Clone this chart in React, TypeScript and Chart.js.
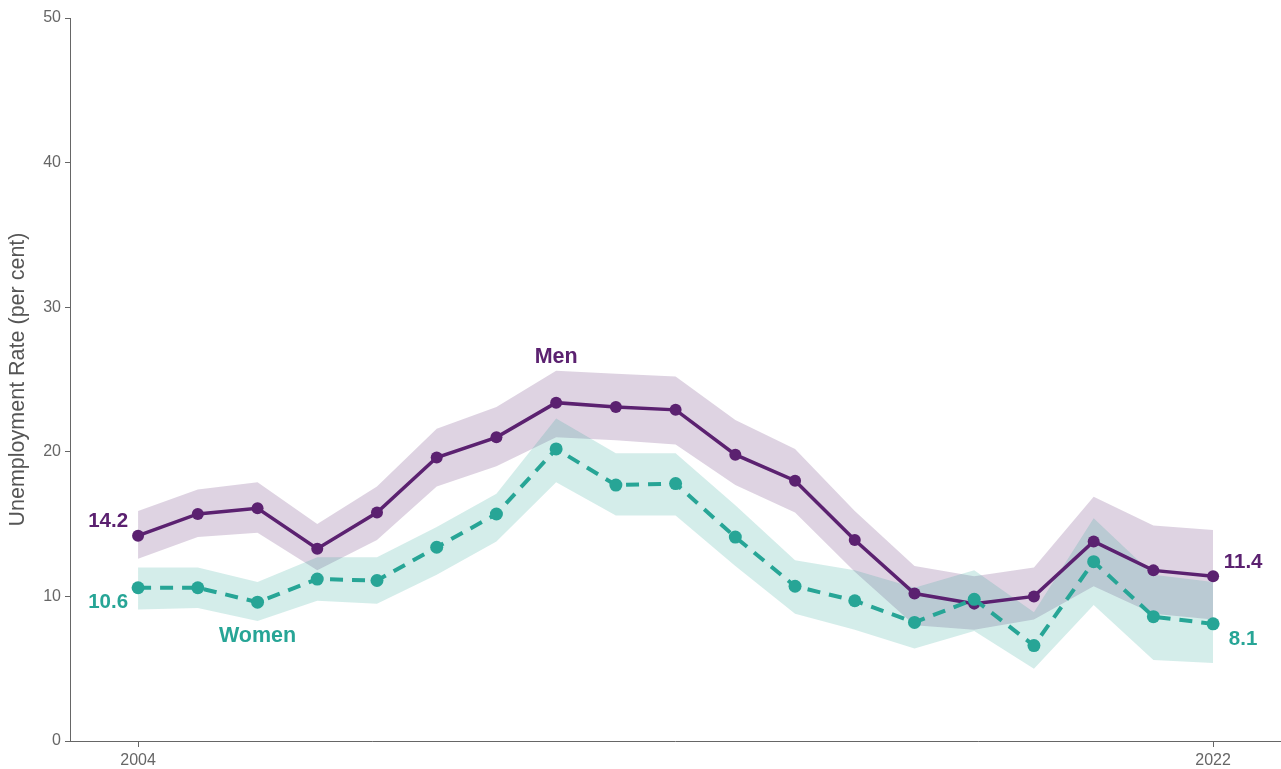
import React, { useEffect, useRef } from "react";
import { Chart, registerables } from "chart.js";

Chart.register(...registerables);

// Survey years
const years = [
  2004, 2005, 2006, 2007, 2008, 2009, 2010, 2011, 2012, 2013,
  2014, 2015, 2016, 2017, 2018, 2019, 2020, 2021, 2022,
];

// Unemployment rate, men (per cent) with confidence interval
const menRate = [14.2, 15.7, 16.1, 13.3, 15.8, 19.6, 21.0, 23.4, 23.1, 22.9, 19.8, 18.0, 13.9, 10.2, 9.5, 10.0, 13.8, 11.8, 11.4];
const menUpper = [15.9, 17.4, 17.9, 15.0, 17.6, 21.6, 23.1, 25.6, 25.4, 25.2, 22.2, 20.2, 15.9, 12.1, 11.4, 12.0, 16.9, 14.9, 14.6];
const menLower = [12.6, 14.1, 14.4, 11.8, 13.9, 17.6, 19.0, 21.0, 20.8, 20.5, 17.7, 15.8, 11.7, 8.0, 7.7, 8.4, 10.7, 8.8, 8.4];

// Unemployment rate, women (per cent) with confidence interval
const womenRate = [10.6, 10.6, 9.6, 11.2, 11.1, 13.4, 15.7, 20.2, 17.7, 17.8, 14.1, 10.7, 9.7, 8.2, 9.8, 6.6, 12.4, 8.6, 8.1];
const womenUpper = [12.0, 12.0, 11.0, 12.7, 12.7, 14.8, 17.1, 22.3, 19.9, 19.9, 16.3, 12.5, 11.8, 10.6, 11.8, 8.9, 15.4, 11.5, 11.0];
const womenLower = [9.1, 9.2, 8.3, 9.7, 9.5, 11.5, 13.8, 17.9, 15.6, 15.6, 12.1, 8.8, 7.7, 6.4, 7.6, 5.0, 9.4, 5.6, 5.4];

// Axis ticks
const xTickYears = [2004, 2022];
const yTicks = [0, 10, 20, 30, 40, 50];

// Series names and where they are written
const menName = "Men";
const womenName = "Women";
const menNameYear = 2011;
const womenNameYear = 2006;

const PURPLE = "#5b2170";
const TEAL = "#27a596";
const PURPLE_BAND = "rgba(91, 33, 112, 0.2)";
const TEAL_BAND = "rgba(39, 165, 150, 0.2)";
const AXIS = "#666666";
const FONT = "'Liberation Sans', Arial, Helvetica, sans-serif";

const pts = (vals: number[]) => years.map((y, i) => ({ x: y, y: vals[i] }));

// Writes the series names and the first/last values beside the lines
const labelPlugin = {
  id: "seriesLabels",
  afterDatasetsDraw(chart: any) {
    const { ctx, scales } = chart;
    const xs = scales.x;
    const ys = scales.y;
    const first = 0;
    const last = years.length - 1;
    const put = (text: string, x: number, y: number, color: string, size: number) => {
      ctx.save();
      ctx.font = `bold ${size}px ${FONT}`;
      ctx.fillStyle = color;
      ctx.textAlign = "center";
      ctx.textBaseline = "middle";
      ctx.fillText(text, x, y);
      ctx.restore();
    };
    const x0 = xs.getPixelForValue(years[first]);
    const x1 = xs.getPixelForValue(years[last]);
    put(menRate[first].toFixed(1), x0 - 30, ys.getPixelForValue(menRate[first]) - 14, PURPLE, 20.5);
    put(womenRate[first].toFixed(1), x0 - 30, ys.getPixelForValue(womenRate[first]) + 15, TEAL, 20.5);
    put(menRate[last].toFixed(1), x1 + 30, ys.getPixelForValue(menRate[last]) - 14, PURPLE, 20.5);
    put(womenRate[last].toFixed(1), x1 + 30, ys.getPixelForValue(womenRate[last]) + 15, TEAL, 20.5);

    const mi = years.indexOf(menNameYear);
    const wi = years.indexOf(womenNameYear);
    put(menName, xs.getPixelForValue(menNameYear), ys.getPixelForValue(menRate[mi]) - 46, PURPLE, 21.5);
    put(womenName, xs.getPixelForValue(womenNameYear), ys.getPixelForValue(womenRate[wi]) + 34, TEAL, 21.5);
  },
};

export default function App() {
  const canvasRef = useRef<HTMLCanvasElement | null>(null);

  useEffect(() => {
    const canvas = canvasRef.current;
    if (!canvas) return;
    const chart = new Chart(canvas, {
      type: "line",
      data: {
        datasets: [
          {
            label: "men upper",
            data: pts(menUpper),
            borderWidth: 0,
            pointRadius: 0,
            fill: false,
            order: 10,
          },
          {
            label: "men lower",
            data: pts(menLower),
            borderWidth: 0,
            pointRadius: 0,
            backgroundColor: PURPLE_BAND,
            fill: 0,
            order: 10,
          },
          {
            label: "women upper",
            data: pts(womenUpper),
            borderWidth: 0,
            pointRadius: 0,
            fill: false,
            order: 9,
          },
          {
            label: "women lower",
            data: pts(womenLower),
            borderWidth: 0,
            pointRadius: 0,
            backgroundColor: TEAL_BAND,
            fill: 2,
            order: 9,
          },
          {
            label: menName,
            data: pts(menRate),
            borderColor: PURPLE,
            borderWidth: 3.5,
            pointRadius: 6,
            pointBorderWidth: 0,
            pointBackgroundColor: PURPLE,
            fill: false,
            order: 2,
          },
          {
            label: womenName,
            data: pts(womenRate),
            borderColor: TEAL,
            borderWidth: 4,
            borderDash: [13, 9],
            pointRadius: 6.5,
            pointBorderWidth: 0,
            pointBackgroundColor: TEAL,
            fill: false,
            order: 1,
          },
        ],
      },
      options: {
        responsive: false,
        animation: false,
        layout: { autoPadding: false, padding: { left: 0, right: 1, top: 18, bottom: 0 } },
        plugins: {
          legend: { display: false },
          tooltip: { enabled: false },
          title: { display: false },
        },
        scales: {
          x: {
            type: "linear",
            min: 2002.86,
            max: 2023.12,
            afterBuildTicks: (scale: any) => {
              scale.ticks = xTickYears.map((v) => ({ value: v }));
            },
            afterFit: (scale: any) => {
              scale.height = 28;
              scale.paddingLeft = 0;
              scale.paddingRight = 0;
            },
            ticks: {
              autoSkip: false,
              maxRotation: 0,
              padding: 4,
              color: AXIS,
              font: { family: FONT, size: 16 },
              callback: (v: any) => String(v),
            },
            grid: {
              display: true,
              drawOnChartArea: false,
              drawTicks: true,
              tickLength: 6,
              color: AXIS,
            },
            border: { display: true, color: AXIS, width: 1 },
          },
          y: {
            type: "linear",
            min: 0,
            max: 50,
            afterBuildTicks: (scale: any) => {
              scale.ticks = yTicks.map((v) => ({ value: v }));
            },
            afterFit: (scale: any) => {
              scale.width = 70;
            },
            ticks: {
              padding: 4,
              color: AXIS,
              font: { family: FONT, size: 16 },
              callback: (v: any) => String(v),
            },
            grid: {
              display: true,
              drawOnChartArea: false,
              drawTicks: true,
              tickLength: 5,
              color: AXIS,
            },
            border: { display: true, color: AXIS, width: 1 },
            title: {
              display: true,
              text: "Unemployment Rate (per cent)",
              color: "#555555",
              font: { family: FONT, size: 21.5 },
              padding: { top: 5, bottom: 0 },
            },
          },
        },
      },
      plugins: [labelPlugin],
    });
    return () => chart.destroy();
  }, []);

  return (
    <div style={{ position: "absolute", left: 0, top: 0, width: 1281, height: 769, background: "#ffffff" }}>
      <canvas ref={canvasRef} width={1281} height={769} style={{ display: "block" }} />
    </div>
  );
}
